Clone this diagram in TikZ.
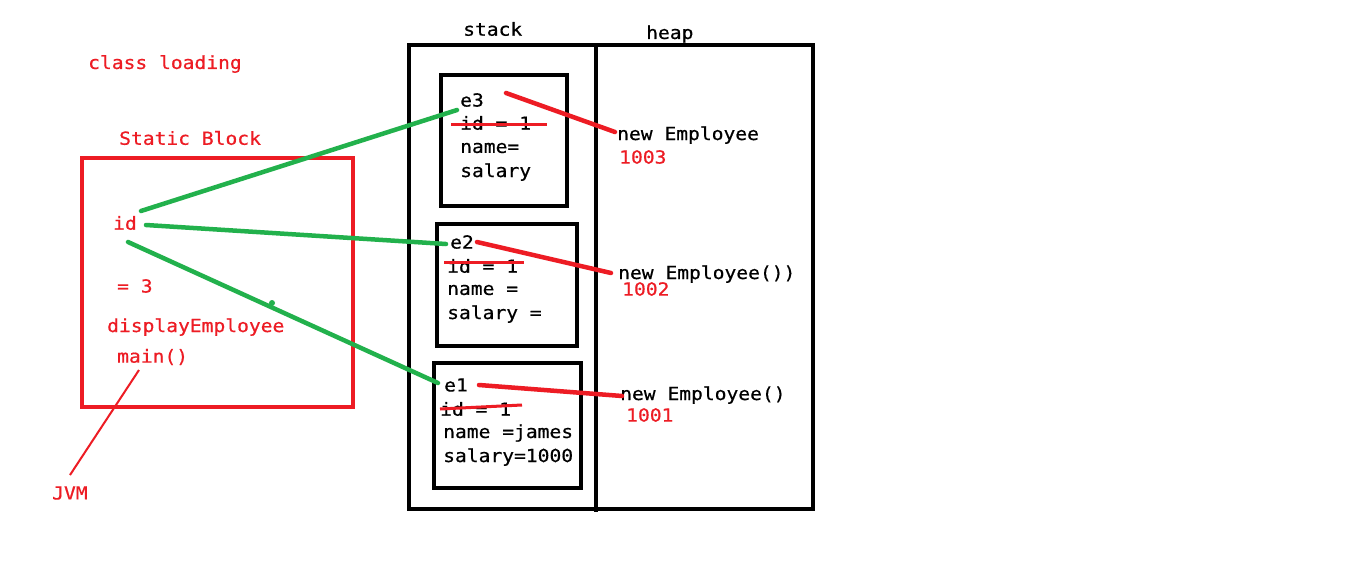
\documentclass[tikz,border=0pt]{standalone}
\usepackage{fontspec}
\setmonofont[FakeStretch=1.09,FakeBold=0.6]{DejaVu Sans Mono}
\definecolor{pred}{HTML}{ED1C24}
\definecolor{pgreen}{HTML}{22B14C}
\begin{document}
\begin{tikzpicture}[x=1pt,y=-1pt,
  txt/.style={anchor=west,inner sep=0pt,font=\ttfamily\fontsize{18}{21}\selectfont},
  rtxt/.style={txt,text=pred},
  blackbox/.style={draw=black,line width=4pt},
  redbox/.style={draw=pred,line width=4pt},
  glink/.style={draw=pgreen,line width=4.5pt,line cap=round},
  rlink/.style={draw=pred,line width=4.5pt,line cap=round},
  strike/.style={draw=pred,line width=3pt},
  thinred/.style={draw=pred,line width=2pt}]
\useasboundingbox[fill=white] (0,0) rectangle (1360,568);

% memory areas
\draw[blackbox] (409,45) rectangle (813,509);
\draw[blackbox] (596,45) -- (596,512);
\node[txt] (stack) at (463,29) {stack};
\node[txt] (heap) at (646,34) {heap};

% stack frames
\draw[blackbox] (441,75) rectangle (567,206);
\draw[blackbox] (437,224) rectangle (577,346);
\draw[blackbox] (434,363) rectangle (581,488);

% e3
\node[txt] (e3) at (460,100) {e3};
\node[txt] (e3id) at (460,123) {id = 1};
\node[txt] (e3n) at (460,148) {name=};
\node[txt] (e3s) at (460,172) {salary};
% e2
\node[txt] (e2) at (450,242) {e2};
\node[txt] (e2id) at (447,266) {id = 1};
\node[txt] (e2n) at (447,290) {name =};
\node[txt] (e2s) at (447,314) {salary =};
% e1
\node[txt] (e1) at (444,385) {e1};
\node[txt] (e1id) at (440,409) {id = 1};
\node[txt] (e1n) at (443,433) {name =james};
\node[txt] (e1s) at (443,457) {salary=1000};

% strike-throughs
\coordinate (s3a) at (451,124); \coordinate (s3b) at (547,124);
\coordinate (s2a) at (444,262); \coordinate (s2b) at (524,262);
\coordinate (s1a) at (440,409); \coordinate (s1b) at (522,405);
\draw[strike] (s3a) -- (s3b);
\draw[strike] (s2a) -- (s2b);
\draw[strike] (s1a) -- (s1b);

% heap objects
\node[txt] (h3) at (617,135) {new Employee};
\node[rtxt] (a3) at (619,157) {1003};
\node[txt] (h2) at (618,274) {new Employee())};
\node[rtxt] (a2) at (622,289) {1002};
\node[txt] (h1) at (620,395) {new Employee()};
\node[rtxt] (a1) at (626,415) {1001};

% references stack -> heap
\coordinate (r3a) at (506,93); \coordinate (r3b) at (615,132);
\coordinate (r2a) at (477,242); \coordinate (r2b) at (611,273);
\coordinate (r1a) at (479,385); \coordinate (r1b) at (622,396);
\draw[rlink] (r3a) -- (r3b);
\draw[rlink] (r2a) -- (r2b);
\draw[rlink] (r1a) -- (r1b);

% class loading / static block
\node[rtxt] (cl) at (88,64) {class loading};
\node[rtxt] (sb) at (119,138) {Static Block};
\draw[redbox] (82,158) rectangle (353,407);
\node[rtxt] (id) at (113,223) {id};
\node[rtxt] (eq) at (117,286) {= 3};
\node[rtxt] (de) at (107,327) {displayEmployee};
\node[rtxt] (mn) at (117,357) {main()};
\node[rtxt] (jvm) at (52,493) {JVM};

\coordinate (j1) at (139,370); \coordinate (j2) at (70,475);
\draw[thinred] (j1) -- (j2);

% static id -> stack frames
\coordinate (g3a) at (141,211); \coordinate (g3b) at (457,110);
\coordinate (g2a) at (146,225); \coordinate (g2b) at (446,244);
\coordinate (g1a) at (128,242); \coordinate (g1b) at (438,383);
\draw[glink] (g3a) -- (g3b);
\draw[glink] (g2a) -- (g2b);
\draw[glink] (g1a) -- (g1b);
\fill[pgreen] (272,303) circle (3);
\end{tikzpicture}
\end{document}
